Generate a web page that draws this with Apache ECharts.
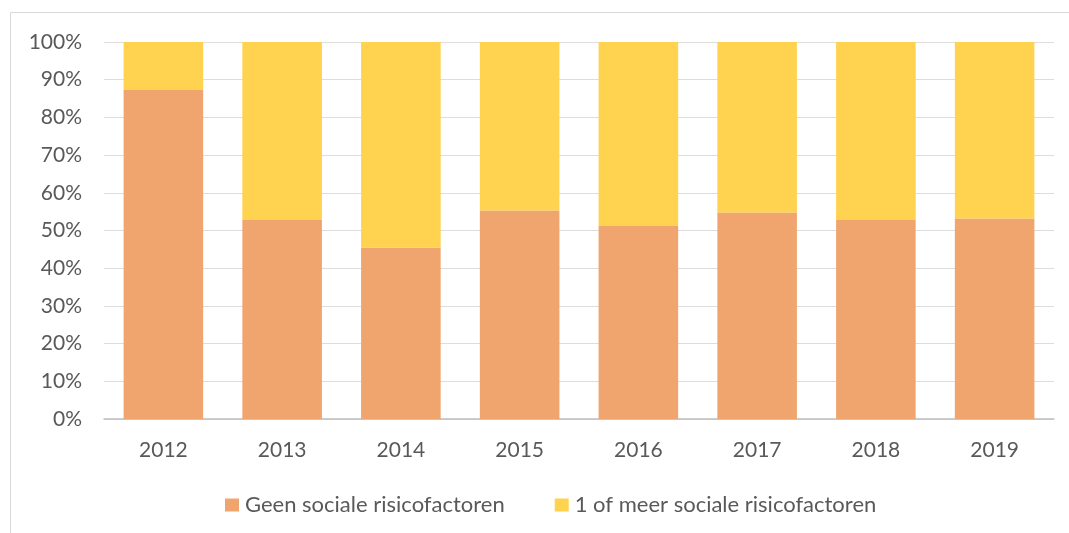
<!DOCTYPE html>
<html>
<head>
<meta charset="utf-8">
<script src="https://cdn.jsdelivr.net/npm/echarts@6/dist/echarts.min.js"></script>
<style>
  html, body { margin: 0; padding: 0; background: #fff; }
  #chart { width: 1069px; height: 533px; }
</style>
</head>
<body>
<div id="chart"></div>
<script>
const years = ['2012', '2013', '2014', '2015', '2016', '2017', '2018', '2019'];
const geenSociale = [87.3, 52.8, 45.4, 55.3, 51.2, 54.8, 52.8, 53.2];
const meerSociale = [12.7, 47.2, 54.6, 44.7, 48.8, 45.2, 47.2, 46.8];
const seriesNames = ['Geen sociale risicofactoren', '1 of meer sociale risicofactoren'];

const textColor = '#595959';
const font = 'Lato';

const myChart = echarts.init(document.getElementById('chart'));
myChart.setOption({
  animation: false,
  graphic: [{
    type: 'rect',
    shape: {x: 10.5, y: 12.5, width: 1200, height: 700},
    style: {fill: 'none', stroke: '#d9d9d9', lineWidth: 1}
  }],
  grid: {left: 104, right: 15, top: 42, bottom: 114},
  legend: {
    left: 220,
    top: 489,
    itemWidth: 14,
    itemHeight: 13,
    itemGap: 50,
    icon: 'rect',
    textStyle: {color: textColor, fontSize: 22, fontFamily: font, padding: [0, 0, 0, 1]},
    data: seriesNames
  },
  xAxis: {
    type: 'category',
    data: years,
    axisTick: {show: false},
    axisLine: {lineStyle: {color: '#bfbfbf', width: 1.5}},
    axisLabel: {color: textColor, fontSize: 21, fontFamily: font, margin: 21}
  },
  yAxis: {
    type: 'value',
    min: 0,
    max: 100,
    interval: 10,
    axisLine: {show: false},
    axisTick: {show: false},
    splitLine: {lineStyle: {color: '#dddddd', width: 1}},
    axisLabel: {
      color: textColor, fontSize: 21, fontFamily: font, margin: 22,
      formatter: v => v + '%'
    }
  },
  series: [{
    name: seriesNames[0],
    type: 'bar',
    stack: 'total',
    barCategoryGap: '33%',
    data: geenSociale,
    itemStyle: {color: '#f0a46e'}
  }, {
    name: seriesNames[1],
    type: 'bar',
    stack: 'total',
    data: meerSociale,
    itemStyle: {color: '#ffd24f'}
  }]
});
</script>
</body>
</html>
